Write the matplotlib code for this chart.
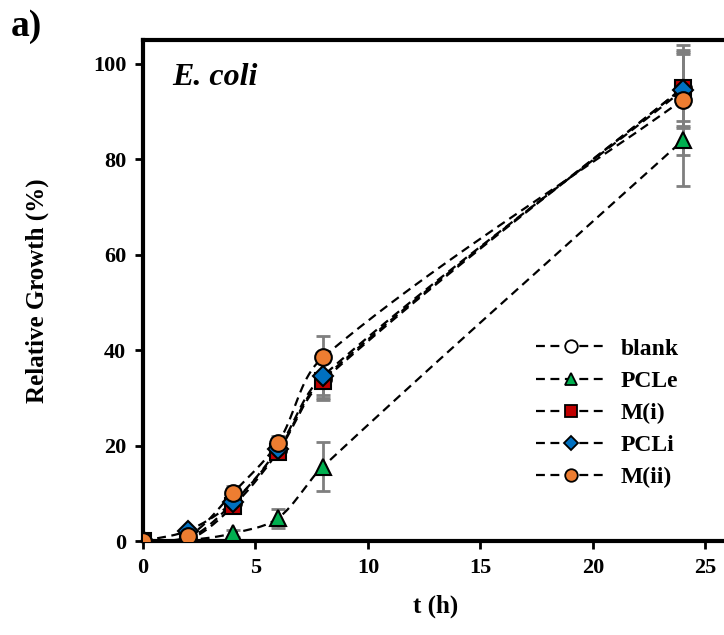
import numpy as np
import matplotlib.pyplot as plt

plt.rcParams['font.family'] = ['Liberation Serif', 'DejaVu Serif']
plt.rcParams['font.weight'] = 'bold'

# time points (h)
t = [0, 2, 4, 6, 8, 24]

series_names = ["blank", "PCLe", "M(i)", "PCLi", "M(ii)"]
blank = [0, 0.5, 8.0, 19.0, 34.0, 95.0]
pcle = [0, 0.2, 1.6, 4.8, 15.6, 84.0]
m_i = [0, 0.2, 7.3, 18.7, 33.6, 95.0]
pcli = [0, 2.2, 8.2, 19.3, 34.6, 94.5]
m_ii = [0, 1.0, 10.1, 20.6, 38.5, 92.5]

blank_err = [0, 0.5, 1.5, 1.5, 4.0, 8.0]
pcle_err = [0, 0.3, 0.8, 2.0, 5.2, 9.5]
m_i_err = [0, 0.5, 1.5, 1.5, 4.0, 7.0]
pcli_err = [0, 0.5, 1.5, 1.5, 4.0, 8.0]
m_ii_err = [0, 0.5, 1.5, 1.5, 4.5, 11.5]

values = [blank, pcle, m_i, pcli, m_ii]
errors = [blank_err, pcle_err, m_i_err, pcli_err, m_ii_err]
markers = ['o', '^', 's', 'D', 'o']
colors = ['white', '#00B050', '#C00000', '#0070C0', '#ED7D31']
sizes = [12, 12, 12, 10, 12]

XMAX, YMAX = 26, 105
AX_POS = [0.1975, 0.148, 0.808, 0.789]
FIG_W, FIG_H = 724, 635


def smooth(xs, ys, n=40):
    # smoothed line like the spreadsheet one, tangents scaled by chord length (in pixels)
    sx = AX_POS[2] * FIG_W / XMAX
    sy = AX_POS[3] * FIG_H / YMAX
    p = np.column_stack([np.asarray(xs, float) * sx, np.asarray(ys, float) * sy])
    m = len(p)
    out = []
    for i in range(m - 1):
        i0 = max(i - 1, 0)
        i3 = min(i + 2, m - 1)
        d01 = np.linalg.norm(p[i] - p[i0])
        d12 = np.linalg.norm(p[i + 1] - p[i])
        d23 = np.linalg.norm(p[i3] - p[i + 1])
        t1 = p[i + 1] - p[i0]
        t2 = p[i3] - p[i]
        c1 = p[i] + t1 * (d12 / (d01 + d12)) / 3 if d01 + d12 > 0 else p[i]
        c2 = p[i + 1] - t2 * (d12 / (d12 + d23)) / 3 if d12 + d23 > 0 else p[i + 1]
        s = np.linspace(0, 1, n)[:, None]
        seg = (1-s)**3*p[i] + 3*(1-s)**2*s*c1 + 3*(1-s)*s**2*c2 + s**3*p[i+1]
        out.append(seg)
    out = np.vstack(out)
    return out[:, 0] / sx, out[:, 1] / sy


fig = plt.figure(figsize=(FIG_W / 100, FIG_H / 100), dpi=100)
ax = fig.add_axes(AX_POS)

for vals, err in zip(values, errors):
    ax.errorbar(t, vals, yerr=err, fmt='none', ecolor='#7f7f7f', elinewidth=2,
                capsize=5, capthick=2, zorder=2)

dash = (0, (4, 2.5))
for name, vals, mk, col, ms in zip(series_names, values, markers, colors, sizes):
    sx, sy = smooth(t, vals)
    ax.plot(sx, sy, color='black', linestyle=dash, linewidth=1.6, zorder=3)
    ax.plot(t, vals, linestyle='none', marker=mk, markersize=ms, markerfacecolor=col,
            markeredgecolor='black', markeredgewidth=1.5, zorder=4)
    # legend handle
    ax.plot([], [], color='black', linestyle=dash, linewidth=1.6, marker=mk,
            markersize=ms * 0.75, markerfacecolor=col, markeredgecolor='black',
            markeredgewidth=1.3, label=name)

ax.set_xlim(0, XMAX)
ax.set_ylim(0, YMAX)
ax.set_xticks([0, 5, 10, 15, 20, 25])
ax.set_yticks([0, 20, 40, 60, 80, 100])
for sp in ax.spines.values():
    sp.set_linewidth(3)
ax.tick_params(direction='out', length=6, width=2, labelsize=16, pad=6)
for lab in ax.get_xticklabels() + ax.get_yticklabels():
    lab.set_fontweight('bold')

ax.set_xlabel("t (h)", fontsize=18, fontweight='bold', labelpad=12)
ax.set_ylabel("Relative Growth (%)", fontsize=18, fontweight='bold', labelpad=32)

ax.text(0.05, 0.91, "E. coli", transform=ax.transAxes, fontsize=23,
        fontstyle='italic', fontweight='bold')
fig.text(0.015, 0.943, "a)", fontsize=27, fontweight='bold')

leg = ax.legend(loc='center left', bbox_to_anchor=(0.635, 0.255), frameon=False,
                handlelength=3.0, handletextpad=0.6, fontsize=17, labelspacing=0.45)

fig.savefig("out.png", dpi=100)
